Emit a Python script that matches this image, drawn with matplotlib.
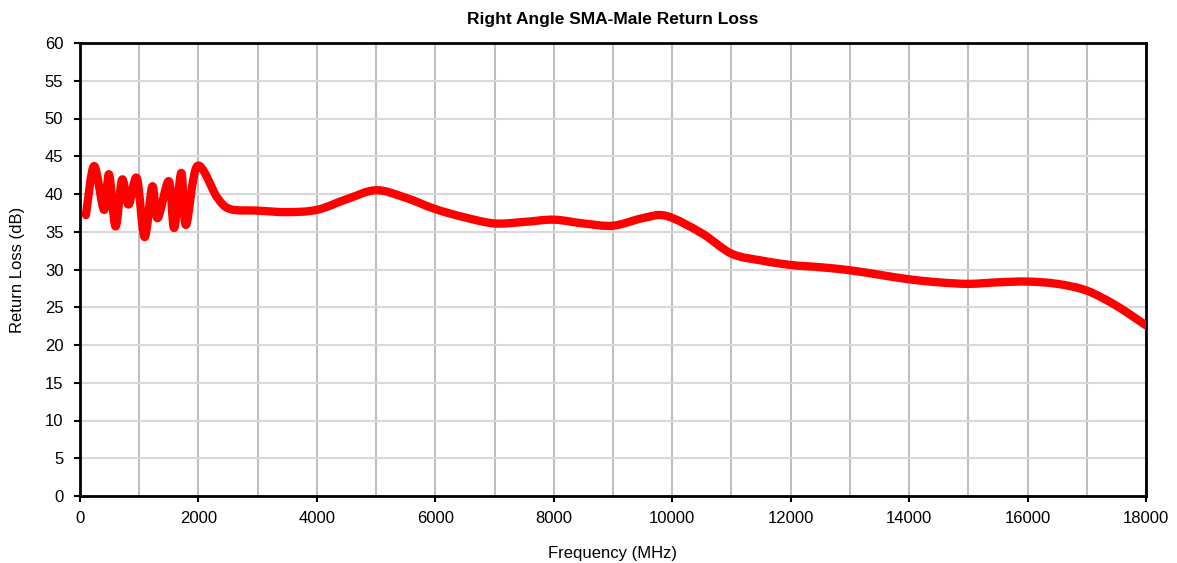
import matplotlib
matplotlib.use('Agg')
import matplotlib.pyplot as plt
import numpy as np
from matplotlib.path import Path
from matplotlib.patches import PathPatch
from matplotlib.ticker import MultipleLocator

plt.rcParams['font.family'] = ['Liberation Sans', 'DejaVu Sans']

# frequency (MHz) and return loss (dB)
freq = [100, 238, 405, 490, 600, 710, 820, 960, 1090, 1220, 1310, 1500, 1590,
        1710, 1790, 1980, 2320, 2540, 3000, 3500, 4000, 4500, 5000, 5500,
        6000, 6500, 7000, 7500, 8000, 8500, 9000, 9500, 9900, 10500, 11000,
        11500, 12000, 12500, 13000, 13500, 14000, 14500, 15000, 15500, 16000,
        16500, 17000, 17500, 18000]
rl = [37.2, 43.7, 37.9, 42.6, 35.7, 41.9, 38.6, 42.1, 34.3, 41.0, 36.8, 41.7,
      35.5, 42.8, 35.9, 43.7, 39.5, 38.0, 37.8, 37.6, 37.9, 39.3, 40.5, 39.5,
      38.0, 36.9, 36.1, 36.3, 36.6, 36.1, 35.8, 36.8, 37.1, 34.8, 32.1,
      31.2, 30.6, 30.3, 29.9, 29.3, 28.7, 28.3, 28.1, 28.3, 28.4,
      28.1, 27.2, 25.2, 22.6]


def smooth_path(xs, ys):
    # Catmull-Rom style bezier, like a spreadsheet "smoothed line"
    pts = np.column_stack([xs, ys]).astype(float)
    n = len(pts)
    verts = [pts[0]]
    codes = [Path.MOVETO]
    for i in range(n - 1):
        p0 = pts[i - 1] if i > 0 else pts[i]
        p1 = pts[i]
        p2 = pts[i + 1]
        p3 = pts[i + 2] if i + 2 < n else pts[i + 1]
        c1 = p1 + (p2 - p0) / 6.0
        c2 = p2 - (p3 - p1) / 6.0
        verts += [c1, c2, p2]
        codes += [Path.CURVE4] * 3
    return Path(verts, codes)


fig = plt.figure(figsize=(11.77, 5.63), dpi=100)
ax = fig.add_axes([80 / 1177, 1 - 496 / 563, 1066 / 1177, 453 / 563])

ax.add_patch(PathPatch(smooth_path(freq, rl), facecolor='none',
                       edgecolor='#ff0000', lw=6, capstyle='round',
                       joinstyle='round', zorder=3))

ax.set_xlim(0, 18000)
ax.set_ylim(0, 60)
ax.xaxis.set_major_locator(MultipleLocator(2000))
ax.xaxis.set_minor_locator(MultipleLocator(1000))
ax.yaxis.set_major_locator(MultipleLocator(5))
ax.grid(axis='x', which='both', color='#bfbfbf', lw=1.5)
ax.grid(axis='y', which='major', color='#d9d9d9', lw=1.5)
ax.set_axisbelow(True)
ax.tick_params(axis='both', which='major', direction='out', length=4,
               width=1.5, labelsize=12, colors='black')
ax.tick_params(axis='y', pad=8)
ax.tick_params(axis='x', pad=7)
ax.tick_params(axis='x', which='minor', length=0)
for s in ax.spines.values():
    s.set_linewidth(2)
    s.set_color('black')

ax.set_title('Right Angle SMA-Male Return Loss', fontsize=12.5,
             fontweight='bold', pad=14)
ax.set_xlabel('Frequency (MHz)', fontsize=12, labelpad=14)
ax.set_ylabel('Return Loss (dB)', fontsize=12, labelpad=14)

plt.savefig('out.png', dpi=100)
